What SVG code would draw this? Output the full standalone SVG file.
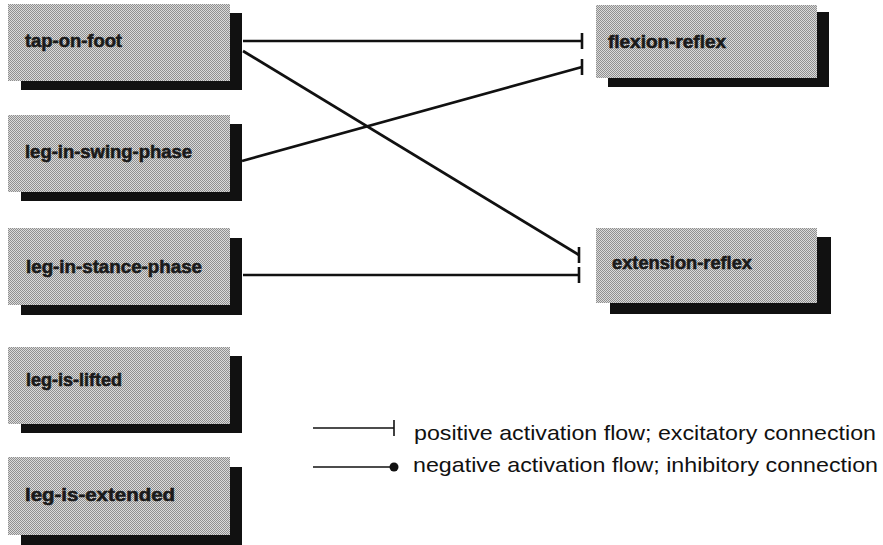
<svg xmlns="http://www.w3.org/2000/svg" width="883" height="545" viewBox="0 0 883 545">
  <defs>
    <pattern id="stipple" x="0" y="0" width="2" height="2" patternUnits="userSpaceOnUse">
      <rect x="0" y="0" width="2" height="2" fill="#dadada"/>
      <rect x="0" y="0" width="1" height="1" fill="#8f8f8f"/>
      <rect x="1" y="1" width="1" height="1" fill="#8f8f8f"/>
    </pattern>
    <marker id="bar" markerUnits="userSpaceOnUse" markerWidth="6" markerHeight="20" viewBox="-3 -10 6 20" refX="0" refY="0" orient="0">
      <path d="M0,-8 V8" stroke="#111" stroke-width="2.6" fill="none"/>
    </marker>
  </defs>
  <style>
    .shadow { fill: #111; }
    .box { fill: url(#stipple); }
    .label { font-family: "Liberation Sans", Arial, sans-serif; font-weight: bold; font-size: 18.5px; fill: #1a1a1a; stroke: #1a1a1a; stroke-width: 0.6; }
    .conn { stroke: #111; stroke-width: 2.7; fill: none; marker-end: url(#bar); }
    .leg { font-family: "Liberation Sans", Arial, sans-serif; font-size: 21px; fill: #111; }
    .legline { stroke: #111; stroke-width: 1.6; fill: none; }
  </style>
  <rect width="883" height="545" fill="#fff"/>

  <g id="tap-on-foot">
    <rect class="shadow" x="21" y="13" width="221" height="77"/>
    <rect class="box" x="8" y="4" width="222" height="77"/>
    <text class="label" x="25" y="47" textLength="97" lengthAdjust="spacingAndGlyphs">tap-on-foot</text>
  </g>
  <g id="leg-in-swing-phase">
    <rect class="shadow" x="21" y="124" width="221" height="77"/>
    <rect class="box" x="8" y="115" width="222" height="77"/>
    <text class="label" x="25" y="158" textLength="167" lengthAdjust="spacingAndGlyphs">leg-in-swing-phase</text>
  </g>
  <g id="leg-in-stance-phase">
    <rect class="shadow" x="21" y="238" width="221" height="77"/>
    <rect class="box" x="8" y="228" width="222" height="77"/>
    <text class="label" x="26" y="273" textLength="176" lengthAdjust="spacingAndGlyphs">leg-in-stance-phase</text>
  </g>
  <g id="leg-is-lifted">
    <rect class="shadow" x="21" y="356" width="221" height="77"/>
    <rect class="box" x="8" y="347" width="222" height="77"/>
    <text class="label" x="26" y="386" textLength="96" lengthAdjust="spacingAndGlyphs">leg-is-lifted</text>
  </g>
  <g id="leg-is-extended">
    <rect class="shadow" x="21" y="467" width="221" height="80"/>
    <rect class="box" x="8" y="457" width="222" height="78"/>
    <text class="label" x="25" y="501" textLength="150" lengthAdjust="spacingAndGlyphs">leg-is-extended</text>
  </g>
  <g id="flexion-reflex">
    <rect class="shadow" x="608" y="12" width="221" height="75"/>
    <rect class="box" x="596" y="5" width="221" height="73"/>
    <text class="label" x="608" y="48" textLength="118" lengthAdjust="spacingAndGlyphs">flexion-reflex</text>
  </g>
  <g id="extension-reflex">
    <rect class="shadow" x="610" y="237" width="221" height="77"/>
    <rect class="box" x="596" y="228" width="221" height="75"/>
    <text class="label" x="612" y="269" textLength="140" lengthAdjust="spacingAndGlyphs">extension-reflex</text>
  </g>

  <g id="connectors">
    <line class="conn" x1="243" y1="41" x2="582" y2="41"/>
    <line class="conn" x1="243" y1="51" x2="579" y2="255"/>
    <line class="conn" x1="242" y1="161" x2="582" y2="67"/>
    <line class="conn" x1="243" y1="275" x2="579" y2="275"/>
  </g>

  <g id="legend">
    <line class="legline" x1="313" y1="428" x2="394" y2="428"/>
    <line class="legline" x1="394" y1="420" x2="394" y2="436"/>
    <text class="leg" x="414" y="440" textLength="462" lengthAdjust="spacingAndGlyphs">positive activation flow; excitatory connection</text>
    <line class="legline" x1="313" y1="467" x2="394" y2="467"/>
    <circle cx="394" cy="467" r="4.5" fill="#111"/>
    <text class="leg" x="413" y="472" textLength="465" lengthAdjust="spacingAndGlyphs">negative activation flow; inhibitory connection</text>
  </g>
</svg>
